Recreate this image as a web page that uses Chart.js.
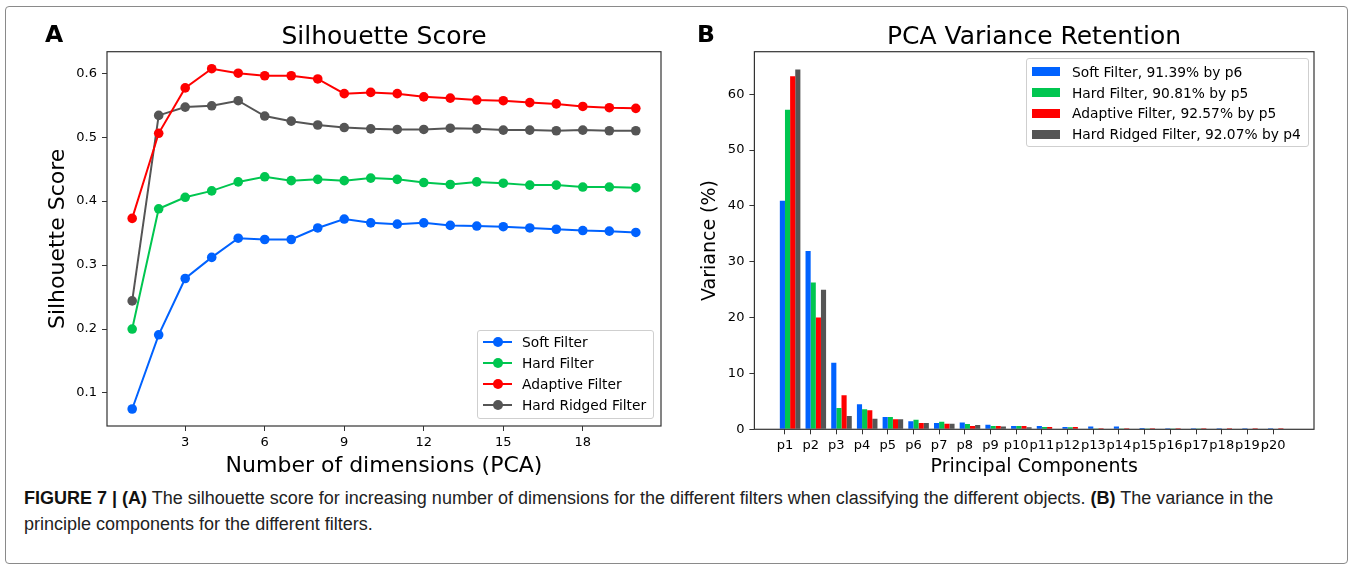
<!DOCTYPE html>
<html>
<head>
<meta charset="utf-8">
<script src="https://cdn.jsdelivr.net/npm/chart.js@4.4.0/dist/chart.umd.min.js"></script>
<style>
html,body{margin:0;padding:0;background:#fff;}
body{width:1354px;height:569px;position:relative;overflow:hidden;font-family:'DejaVu Sans',sans-serif;}
#frame{position:absolute;left:5px;top:6px;width:1343px;height:558px;border:1px solid #8a8a8a;border-radius:4px;box-sizing:border-box;}
canvas{position:absolute;top:0;}
#cA{left:0;}
#cB{left:690px;}
.panel{position:absolute;font:bold 23.5px 'DejaVu Sans',sans-serif;line-height:1;color:#000;}
.title{position:absolute;width:500px;font:25px 'DejaVu Sans',sans-serif;line-height:25px;text-align:center;white-space:nowrap;color:#000;}
.legend{position:absolute;box-sizing:border-box;border:1px solid #cfcfcf;border-radius:3px;background:rgba(255,255,255,0.85);font:13.8px 'DejaVu Sans',sans-serif;color:#000;}
.item{position:absolute;left:0;right:0;height:20px;line-height:20px;white-space:nowrap;}
.item .txt{position:absolute;top:0;}
.item .ln{position:absolute;height:2px;top:9px;}
.item .dot{position:absolute;width:10px;height:10px;border-radius:50%;top:5px;}
.item .patch{position:absolute;height:9px;top:5.5px;width:28px;}
#caption{position:absolute;left:24px;top:485px;font:18px 'Liberation Sans',Arial,sans-serif;line-height:26px;color:#222;white-space:nowrap;}
#caption b{color:#111;}
</style>
</head>
<body>
<div id="frame"></div>
<canvas id="cA" width="700" height="480"></canvas>
<canvas id="cB" width="664" height="480"></canvas>
<div class="panel" style="left:45px;top:23px;">A</div>
<div class="panel" style="left:697px;top:23px;">B</div>
<div class="title" style="left:134px;top:23px;">Silhouette Score</div>
<div class="title" style="left:784px;top:23px;">PCA Variance Retention</div>
<div class="legend" id="legA" style="left:477px;top:330px;width:177px;height:89px;"></div>
<div class="legend" id="legB" style="left:1026px;top:58px;width:283px;height:89px;"></div>
<div id="caption"><b>FIGURE 7 | (A)</b> The silhouette score for increasing number of dimensions for the different filters when classifying the different objects. <b>(B)</b> The variance in the<br>principle components for the different filters.</div>
<script>
// ---------- data ----------
const dims = [1,2,3,4,5,6,7,8,9,10,11,12,13,14,15,16,17,18,19,20];
const filterNames = ['Soft Filter','Hard Filter','Adaptive Filter','Hard Ridged Filter'];
const filterColors = ['#0062ff','#00c650','#ff0000','#555555'];

const softScore     = [0.075,0.191,0.279,0.312,0.342,0.340,0.340,0.358,0.372,0.366,0.364,0.366,0.362,0.361,0.360,0.358,0.356,0.354,0.353,0.351];
const hardScore     = [0.200,0.388,0.406,0.416,0.430,0.438,0.432,0.434,0.432,0.436,0.434,0.429,0.426,0.430,0.428,0.425,0.425,0.422,0.422,0.421];
const adaptiveScore = [0.373,0.506,0.577,0.607,0.600,0.596,0.596,0.591,0.568,0.570,0.568,0.563,0.561,0.558,0.557,0.554,0.552,0.548,0.546,0.545];
const ridgedScore   = [0.244,0.534,0.547,0.549,0.557,0.533,0.525,0.519,0.515,0.513,0.512,0.512,0.514,0.513,0.511,0.511,0.510,0.511,0.510,0.510];

const pcLabels = ['p1','p2','p3','p4','p5','p6','p7','p8','p9','p10','p11','p12','p13','p14','p15','p16','p17','p18','p19','p20'];
const softVar     = [40.9,31.9,11.9,4.5,2.2,1.45,1.15,1.2,0.8,0.6,0.6,0.42,0.48,0.48,0.24,0.2,0.2,0.2,0.2,0.2];
const hardVar     = [57.2,26.3,3.8,3.6,2.2,1.7,1.35,0.95,0.6,0.6,0.42,0.36,0.15,0.15,0.15,0.15,0.15,0.12,0.12,0.12];
const adaptiveVar = [63.2,20.0,6.1,3.4,1.8,1.15,1.0,0.6,0.6,0.6,0.42,0.42,0.18,0.18,0.18,0.18,0.18,0.18,0.18,0.18];
const ridgedVar   = [64.4,25.0,2.4,1.9,1.8,1.15,1.0,0.77,0.48,0.36,0.12,0.12,0.1,0.1,0.1,0.08,0.08,0.08,0.08,0.08];
const retainedPct = [91.39,90.81,92.57,92.07];
const retainedBy  = ['p6','p5','p5','p4'];

// ---------- chart setup ----------
Chart.defaults.font.family = "'DejaVu Sans', sans-serif";
Chart.defaults.color = '#000';

const framePlugin = {
  id:'frame',
  afterDraw(chart){
    const {ctx, chartArea:a} = chart;
    ctx.save();
    ctx.strokeStyle = '#333';
    ctx.lineWidth = 1.2;
    ctx.strokeRect(a.left, a.top, a.right - a.left, a.bottom - a.top);
    ctx.restore();
  }
};
const tickGrid = {display:true, drawOnChartArea:false, drawTicks:true, tickLength:5, color:'#333', lineWidth:1, offset:false};

const scoreSeries = [softScore, hardScore, adaptiveScore, ridgedScore];
const chartA = new Chart(document.getElementById('cA'), {
  type:'line',
  data:{
    datasets: scoreSeries.map((vals,k)=>({
      label: filterNames[k],
      data: dims.map((d,i)=>({x:d, y:vals[i]})),
      borderColor: filterColors[k],
      backgroundColor: filterColors[k],
      pointBackgroundColor: filterColors[k],
      pointBorderColor: filterColors[k],
      pointRadius: 4.8,
      pointBorderWidth: 0,
      borderWidth: 2,
      tension: 0
    }))
  },
  options:{
    responsive:false, animation:false, events:[],
    layout:{padding:{top:51.7, right:39, bottom:0, left:0}},
    plugins:{legend:{display:false}, tooltip:{enabled:false}, title:{display:false}},
    scales:{
      x:{
        type:'linear', min:0.05, max:20.95, offset:false,
        afterFit(s){ s.height = 54; },
        ticks:{stepSize:3, includeBounds:false, font:{size:13}, color:'#000', padding:4, maxRotation:0, callback:v=>String(v)},
        grid:tickGrid, border:{display:false},
        title:{display:true, text:'Number of dimensions (PCA)', font:{size:22}, color:'#000', padding:{top:0, bottom:0.8}}
      },
      y:{
        type:'linear', min:0.0484, max:0.6336,
        afterFit(s){ s.width = 107; },
        ticks:{stepSize:0.1, includeBounds:false, font:{size:13}, color:'#000', padding:5, callback:v=>v.toFixed(1)},
        grid:tickGrid, border:{display:false},
        title:{display:true, text:'Silhouette Score', font:{size:22}, color:'#000', padding:{top:44.8, bottom:0}}
      }
    }
  },
  plugins:[framePlugin]
});

const varSeries = [softVar, hardVar, adaptiveVar, ridgedVar];
const chartB = new Chart(document.getElementById('cB'), {
  type:'bar',
  data:{
    datasets: varSeries.map((vals,k)=>({
      label: `${filterNames[k]}, ${retainedPct[k].toFixed(2)}% by ${retainedBy[k]}`,
      data: vals.map((v,i)=>({x:i, y:v})),
      xAxisID:'x',
      backgroundColor: filterColors[k],
      borderWidth:0,
      barPercentage:1,
      categoryPercentage:0.8
    }))
  },
  options:{
    responsive:false, animation:false, events:[],
    layout:{padding:{top:51.7, right:40, bottom:0, left:0}},
    plugins:{legend:{display:false}, tooltip:{enabled:false}, title:{display:false}},
    scales:{
      x:{type:'linear', min:-1.39, max:20.39, offset:false, display:false, grid:{offset:false}, ticks:{stepSize:1, includeBounds:false}},
      xPC:{
        type:'linear', position:'bottom', min:-1.19, max:20.59, offset:false,
        afterBuildTicks(s){ s.ticks = s.ticks.filter(t=>t.value>=0 && t.value<pcLabels.length); },
        afterFit(s){ s.height = 50.7; },
        ticks:{stepSize:1, includeBounds:false, autoSkip:false, maxRotation:0, minRotation:0, font:{size:13}, color:'#000', padding:4, callback:v=>pcLabels[v]},
        grid:tickGrid, border:{display:false},
        title:{display:true, text:'Principal Components', font:{size:19}, color:'#000', padding:{top:0, bottom:1.1}}
      },
      y:{
        type:'linear', min:0, max:67.6,
        afterFit(s){ s.width = 64.4; },
        ticks:{stepSize:10, includeBounds:false, font:{size:13}, color:'#000', padding:5},
        grid:tickGrid, border:{display:false},
        title:{display:true, text:'Variance (%)', font:{size:19}, color:'#000', padding:{top:8.6, bottom:0}}
      }
    }
  },
  plugins:[framePlugin]
});

// ---------- legends built from the chart datasets ----------
const rowTops = [1, 22, 43, 64];
const legA = document.getElementById('legA');
chartA.data.datasets.forEach((ds,k)=>{
  const it = document.createElement('div');
  it.className = 'item';
  it.style.top = rowTops[k] + 'px';
  it.innerHTML = `<span class="ln" style="left:5px;width:29px;background:${ds.borderColor}"></span>`+
                 `<span class="dot" style="left:14.5px;background:${ds.borderColor}"></span>`+
                 `<span class="txt" style="left:44px">${ds.label}</span>`;
  legA.appendChild(it);
});
const rowTopsB = [2.7, 23.6, 44.3, 65.2];
const legB = document.getElementById('legB');
chartB.data.datasets.forEach((ds,k)=>{
  const it = document.createElement('div');
  it.className = 'item';
  it.style.top = rowTopsB[k] + 'px';
  it.innerHTML = `<span class="patch" style="left:5px;background:${ds.backgroundColor}"></span>`+
                 `<span class="txt" style="left:45px">${ds.label}</span>`;
  legB.appendChild(it);
});
</script>
</body>
</html>
